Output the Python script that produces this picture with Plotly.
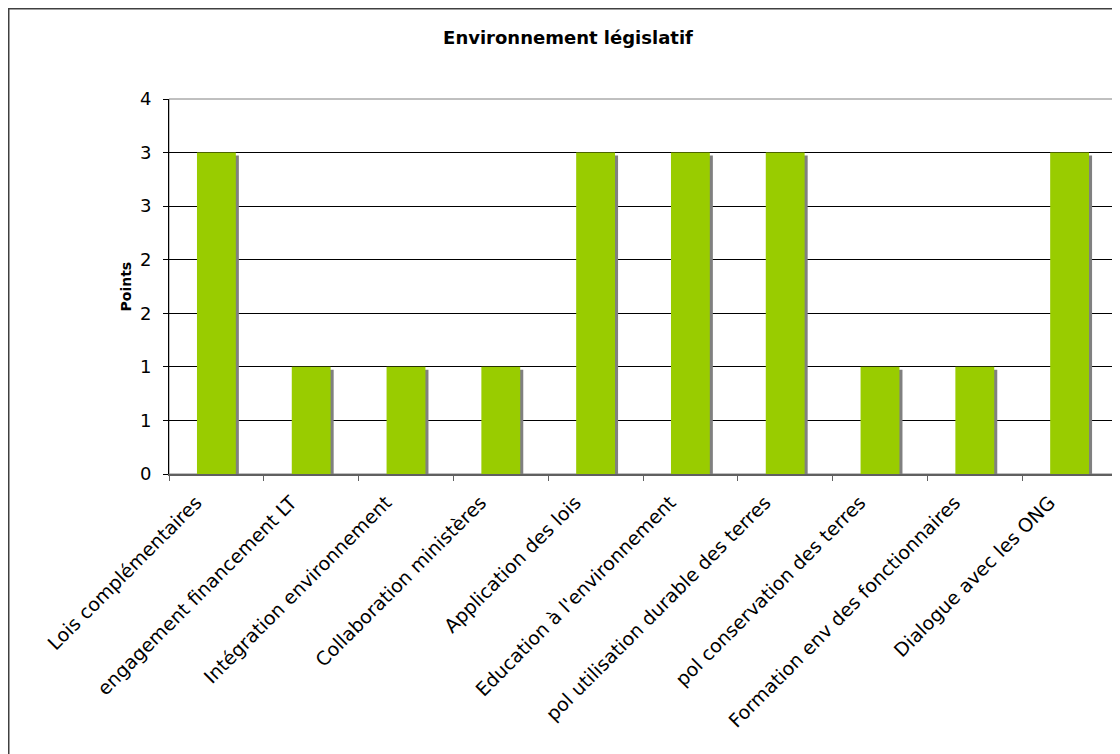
import plotly.graph_objs as go

# data
categories = [
    "Lois complémentaires",
    "engagement financement LT",
    "Intégration environnement",
    "Collaboration ministères",
    "Application des lois",
    "Education à l'environnement",
    "pol utilisation durable des terres",
    "pol conservation des terres",
    "Formation env des fonctionnaires",
    "Dialogue avec les ONG",
]
points = [3, 1, 1, 1, 3, 3, 3, 1, 1, 3]
y_tickvals = [0, 0.5, 1, 1.5, 2, 2.5, 3, 3.5]
y_ticktext = ["0", "1", "1", "2", "2", "3", "3", "4"]

FONT = "DejaVu Sans"
bar_w = 0.41

# page puts the figure 8px in from the top-left corner
L, T, R, B = 161, 91, 1109, 466
W, H = 1120, 754

fig = go.Figure()
# grey drop shadow behind each bar
fig.add_trace(go.Bar(
    x=categories, y=[v - 0.028 for v in points],
    width=bar_w, offset=-bar_w / 2 + 0.032,
    marker=dict(color="#808080", line=dict(width=0)),
    hoverinfo="skip", showlegend=False,
))
fig.add_trace(go.Bar(
    x=categories, y=points,
    width=bar_w, offset=-bar_w / 2,
    marker=dict(color="#99CC00", line=dict(width=0)),
    name="Points", showlegend=False,
))

pw, ph = R - L, B - T
fig.update_layout(
    width=W, height=H,
    barmode="overlay",
    paper_bgcolor="white", plot_bgcolor="white",
    margin=dict(l=L, r=W - R, t=T, b=H - B),
    font=dict(family=FONT, color="black"),
    title=dict(
        text="<b>Environnement législatif</b>",
        x=560 / W, xanchor="center", xref="container",
        y=1 - 30 / H, yanchor="middle", yref="container",
        font=dict(family=FONT, size=18, color="black"),
    ),
    xaxis=dict(
        type="category",
        tickangle=-45,
        tickfont=dict(family=FONT, size=19, color="black"),
        ticks="outside", ticklen=5, tickcolor="#606060",
        tickson="boundaries",
        ticklabelshift=-20, ticklabelstandoff=8,
        showline=True, linecolor="#606060", linewidth=2,
        showgrid=False,
    ),
    yaxis=dict(
        range=[0, 3.5],
        tickvals=y_tickvals, ticktext=y_ticktext,
        tickfont=dict(family=FONT, size=18, color="black"),
        ticks="outside", ticklen=5, tickcolor="black",
        ticklabelstandoff=8,
        showline=True, linecolor="black", linewidth=1,
        showgrid=True, gridcolor="black", gridwidth=1,
        zeroline=False,
    ),
    shapes=[
        # plot area border
        dict(type="rect", xref="paper", yref="paper", x0=0, x1=1, y0=0, y1=1,
             line=dict(color="#808080", width=1), layer="below"),
        # chart area border (runs off the picture at right and bottom)
        dict(type="rect", xref="paper", yref="paper",
             x0=(0.75 - L) / pw, x1=1.05, y0=-1.0, y1=(B - 0.75) / ph,
             line=dict(color="#404040", width=1.5), layer="below"),
    ],
    annotations=[
        dict(text="<b>Points</b>", xref="paper", yref="paper",
             x=(117 - L) / pw, y=0.5, textangle=-90, showarrow=False,
             xanchor="center", yanchor="middle",
             font=dict(family=FONT, size=14, color="black")),
    ],
)

fig.write_html("out.html")
